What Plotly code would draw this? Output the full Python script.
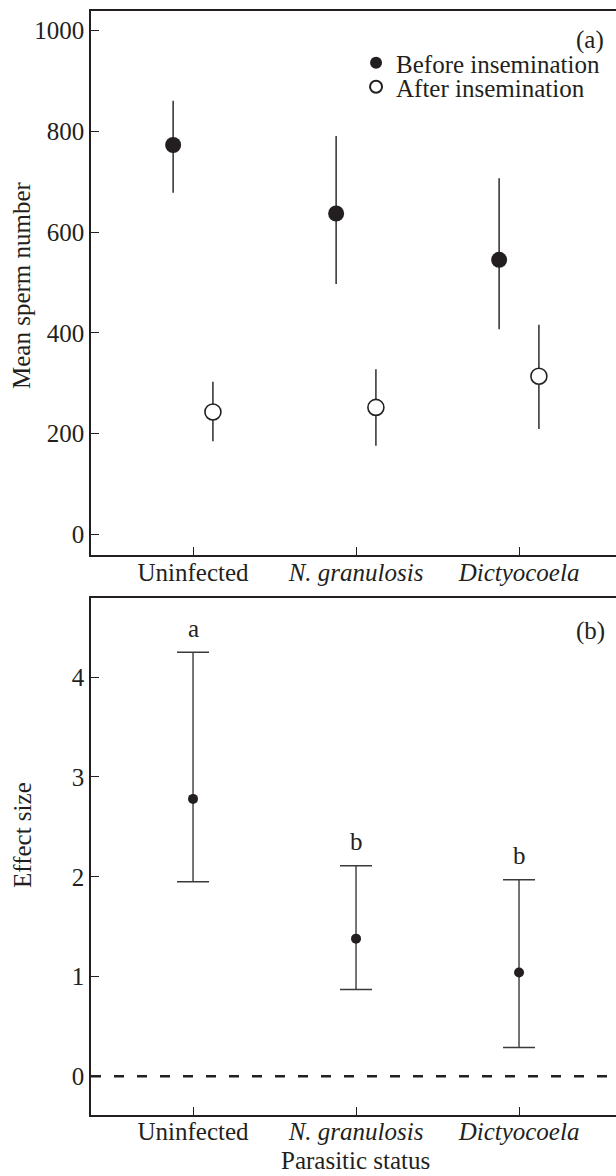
import plotly.graph_objects as go

# ---------------- data ----------------
categories = ["Uninfected", "<i>N. granulosis</i>", "<i>Dictyocoela</i>"]

before_mean = [773, 637, 545]
before_upper = [861, 791, 707]
before_lower = [678, 497, 407]

after_mean = [243, 252, 314]
after_upper = [303, 328, 416]
after_lower = [185, 176, 209]

effect_mean = [2.78, 1.38, 1.04]
effect_upper = [4.25, 2.11, 1.97]
effect_lower = [1.95, 0.87, 0.29]
effect_letters = ["a", "b", "b"]

top_ticks = [0, 200, 400, 600, 800, 1000]
bottom_ticks = [0, 1, 2, 3, 4]

# ---------------- style ----------------
FONT = "Liberation Serif"
INK = "#231f20"
FS = 25
W, H = 616, 1176
xi = list(range(len(categories)))
off = 0.122

fig = go.Figure()

fig.add_trace(go.Scatter(
    x=[i - off for i in xi], y=before_mean, mode="markers",
    name="Before insemination", legend="legend",
    marker=dict(size=16, color=INK, line=dict(width=0)),
    error_y=dict(type="data", symmetric=False,
                 array=[u - m for u, m in zip(before_upper, before_mean)],
                 arrayminus=[m - l for m, l in zip(before_mean, before_lower)],
                 width=0, thickness=1.6, color="#3a3a3a"),
    xaxis="x", yaxis="y"))

fig.add_trace(go.Scatter(
    x=[i + off for i in xi], y=after_mean, mode="markers",
    name="After insemination", legend="legend2",
    marker=dict(size=16, color="white", line=dict(width=1.6, color=INK)),
    error_y=dict(type="data", symmetric=False,
                 array=[u - m for u, m in zip(after_upper, after_mean)],
                 arrayminus=[m - l for m, l in zip(after_mean, after_lower)],
                 width=0, thickness=1.6, color="#3a3a3a"),
    xaxis="x", yaxis="y"))

fig.add_trace(go.Scatter(
    x=xi, y=effect_mean, mode="markers", showlegend=False,
    marker=dict(size=10, color=INK),
    error_y=dict(type="data", symmetric=False,
                 array=[u - m for u, m in zip(effect_upper, effect_mean)],
                 arrayminus=[m - l for m, l in zip(effect_mean, effect_lower)],
                 width=16, thickness=1.4, color="#3a3a3a"),
    xaxis="x2", yaxis="y2"))

x0 = 91 / W
top_dom = [1 - 555 / H, 1 - 11 / H]
bot_dom = [1 - 1115 / H, 1 - 598.3 / H]

axis_common = dict(showline=True, linecolor=INK, linewidth=1.5,
                   ticks="inside", ticklen=8, tickwidth=1.3, tickcolor=INK,
                   showgrid=False, zeroline=False,
                   tickfont=dict(family=FONT, size=FS, color=INK))

leg_common = dict(xanchor="left", yanchor="top", bgcolor="rgba(0,0,0,0)",
                  borderwidth=0, font=dict(family=FONT, size=FS, color=INK),
                  itemsizing="constant")

fig.update_layout(
    width=W, height=H,
    margin=dict(l=0, r=0, t=0, b=0),
    paper_bgcolor="white", plot_bgcolor="white",
    font=dict(family=FONT, size=FS, color=INK),
    showlegend=True,
    legend=dict(x=0.578, y=1 - 40 / H, **leg_common),
    legend2=dict(x=0.578, y=1 - 64 / H, **leg_common),
    xaxis=dict(domain=[x0, 1], range=[-0.626, 2.595], tickvals=xi,
               ticktext=categories, mirror=True, anchor="y",
               ticklabelstandoff=-6, **axis_common),
    yaxis=dict(domain=top_dom, range=[-41, 1039], tickvals=top_ticks,
               anchor="x", **axis_common),
    xaxis2=dict(domain=[x0, 1], range=[-0.626, 2.595], tickvals=xi,
                ticktext=categories, mirror=True, anchor="y2",
                ticklabelstandoff=-7, **axis_common),
    yaxis2=dict(domain=bot_dom, range=[-0.387, 4.79], tickvals=bottom_ticks,
                anchor="x2", **axis_common),
)

# dashed zero line in panel b
fig.add_shape(type="line", xref="paper", yref="y2", x0=x0, x1=1, y0=0, y1=0,
              line=dict(color=INK, width=2.5, dash="10px,13px"))

# significance letters
for i, (u, t) in enumerate(zip(effect_upper, effect_letters)):
    fig.add_annotation(x=i, y=u, xref="x2", yref="y2", text=t, showarrow=False,
                       xanchor="center", yanchor="middle", yshift=24,
                       font=dict(family=FONT, size=FS, color=INK))


def label(x, y, text, angle=0):
    fig.add_annotation(x=x / W, y=1 - y / H, xref="paper", yref="paper",
                       text=text, textangle=angle, showarrow=False,
                       xanchor="center", yanchor="middle",
                       font=dict(family=FONT, size=FS, color=INK))


# panel labels
label(590, 40, "(a)")
label(590, 631, "(b)")
# axis titles
label(22, 285, "Mean sperm number", -90)
label(22, 835, "Effect size", -90)
label(355, 1160, "Parasitic status")

fig.write_html("out.html")
